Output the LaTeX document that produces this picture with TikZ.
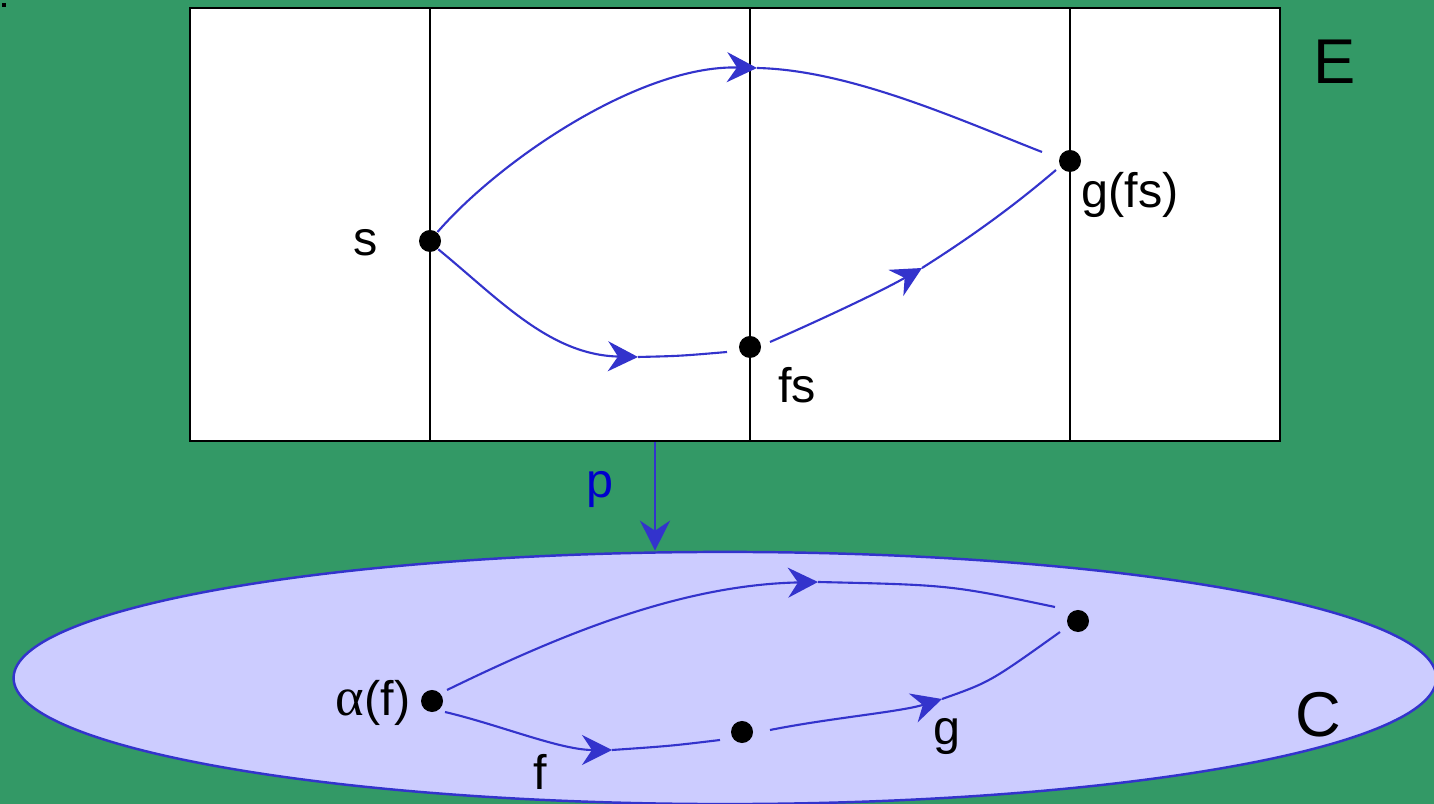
\documentclass[tikz,border=0pt]{standalone}
\usepackage{fontspec}
\setmainfont{Liberation Sans}
\newfontfamily\greekfont{Liberation Serif}
\usetikzlibrary{shapes.geometric, arrows.meta}

\definecolor{bggreen}{HTML}{339966}
\definecolor{baselilac}{HTML}{CCCCFF}
\definecolor{pathblue}{HTML}{3333CC}
\definecolor{mapblue}{HTML}{0000CC}

\begin{document}
\begin{tikzpicture}[x=0.01cm, y=-0.01cm,
  dot/.style={circle, fill=black, inner sep=0pt, minimum size=0.22cm},
  lbl/.style={font=\fontsize{13.8}{16}\selectfont, inner sep=0pt},
  biglbl/.style={font=\fontsize{18}{20}\selectfont, inner sep=0pt},
  fibre/.style={draw=black, line width=0.6pt},
  morph/.style={draw=pathblue, line width=0.6pt},
  tip/.style={-{Stealth[length=3mm, width=3mm, inset=1mm]}}
]

% background
\useasboundingbox (0,0) rectangle (1434,804);
\clip (0,0) rectangle (1434,804);
\fill[bggreen] (0,0) rectangle (1434,804);
\fill[black] (2,3) rectangle (6,7);

% total space and base
\node (total) [fibre, fill=white, rectangle, minimum width=10.9cm, minimum height=4.33cm, inner sep=0pt] at (735,224.5) {};
\node (base) [ellipse, draw=pathblue, line width=0.7pt, fill=baselilac, minimum width=14.22cm, minimum height=2.52cm, inner sep=0pt] at (725,678) {};
\foreach \col in {430,750,1070}
  \draw[fibre] (\col,8) -- (\col,441);

% points
\node (s) [dot] at (430,241) {};
\node (fs) [dot] at (750,347) {};
\node (gfs) [dot] at (1070,161) {};
\node (af) [dot] at (432,701) {};
\node (b) [dot] at (742,732) {};
\node (c) [dot] at (1078,621) {};

% labels
\node [biglbl] at (1335,62) {E};
\node [biglbl] at (1318,715) {C};
\node [lbl] at (366,243) {s};
\node [lbl] at (797,385) {fs};
\node [lbl] at (1130,195) {g(fs)};
\node [lbl] at (373,703) {{\greekfont\fontsize{15.5}{16}\selectfont α}(f)};
\node [lbl] at (540,772) {f};
\node [lbl] at (947,737) {g};
\node [lbl, text=mapblue] at (600,489) {p};

% path ends
\coordinate (topmid) at (757,68);
\coordinate (gin) at (1042,152);
\coordinate (lowmid) at (638,357);
\coordinate (fsin) at (727,352);
\coordinate (fsout) at (770,342);
\coordinate (rightmid) at (922,268);
\coordinate (gout) at (1056,170);
\coordinate (aout1) at (447,690);
\coordinate (aout2) at (445,712);
\coordinate (botmid) at (818,582);
\coordinate (cin) at (1055,607);
\coordinate (fmid) at (612,750);
\coordinate (bin) at (720,740);
\coordinate (bout) at (770,730);
\coordinate (gmid) at (942,699);
\coordinate (cout) at (1060,632);
\coordinate (pcol) at (655,0);

% lifts in E
\draw [morph, tip] (s.50) .. controls (500,160) and (640,65) .. (topmid);
\draw [morph] (topmid) .. controls (850,70) and (960,120) .. (gin);
\draw [morph, tip] (s.-45) .. controls (500,300) and (550,355) .. (lowmid);
\draw [morph] (lowmid) .. controls (680,356) .. (fsin);
\draw [morph, tip] (fsout) .. controls (820,320) and (880,292) .. (rightmid);
\draw [morph] (rightmid) .. controls (990,225) and (1030,192) .. (gout);

% arrows in C
\draw [morph, tip] (aout1) .. controls (560,635) and (680,585) .. (botmid);
\draw [morph] (botmid) .. controls (950,585) .. (cin);
\draw [morph, tip] (aout2) .. controls (500,725) and (560,750) .. (fmid);
\draw [morph] (fmid) .. controls (670,746) .. (bin);
\draw [morph, tip] (bout) .. controls (830,718) and (900,712) .. (gmid);
\draw [morph] (gmid) .. controls (990,682) .. (cout);

% projection
\draw [morph, line width=0.8pt, tip] (total.south -| pcol) -- (base.north -| pcol);

\end{tikzpicture}
\end{document}
